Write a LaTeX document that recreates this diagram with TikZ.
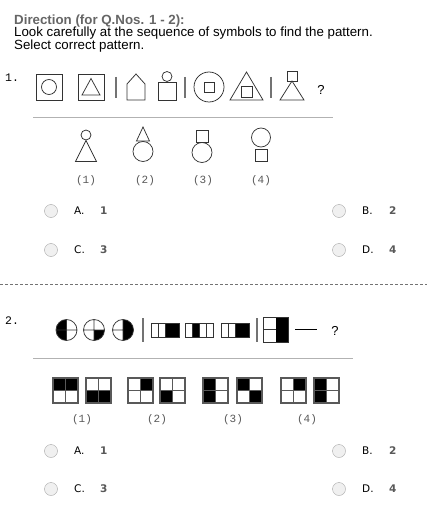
\documentclass[tikz,border=0pt]{standalone}
\usepackage{fontspec}
\setmainfont{Liberation Sans}
\newfontfamily\verd{DejaVu Sans}
\newfontfamily\cour{Liberation Mono}
\usetikzlibrary{calc}

\begin{document}
\begin{tikzpicture}[x=1pt,y=-1pt,
    sym/.style={draw=black!80,line width=0.75pt},
    sepline/.style={draw=black!55,line width=1.2pt},
    rule/.style={draw=black!30,line width=0.8pt},
    cell/.style={draw=black!65,line width=1.5pt},
    radio/.style={circle,draw=black!35,fill=black!6,minimum size=13pt,inner sep=0pt},
    choice/.style={font=\verd\fontsize{10.5}{12}\selectfont,anchor=west,inner sep=0pt},
    pick/.style={font=\verd\bfseries\fontsize{10.5}{12}\selectfont,text=black!65,anchor=west,inner sep=0pt},
    lab/.style={font=\cour\fontsize{11}{13}\selectfont,text=black!65,inner sep=0pt},
    qno/.style={font=\cour\fontsize{11.5}{13}\selectfont,anchor=base west,inner sep=0pt},
    head/.style={anchor=base west,inner sep=0pt,font=\fontsize{13.3}{15}\selectfont}]
  \useasboundingbox (0,0) rectangle (427,513);
  \fill[white] (0,0) rectangle (427,513);
  % heading
  \node[head,text=black!60,font=\bfseries\fontsize{13.3}{15}\selectfont] (dir) at (14,24.5) {Direction (for Q.Nos. 1 - 2):};
  \node[head] (look) at (14,37) {Look carefully at the sequence of symbols to find the pattern.};
  \node[head] (sel) at (14,49.5) {Select correct pattern.};
  %
  % question 1
  \node[qno] (q1) at (5,82) {1.};
  \draw[sym] (36,74.5) rectangle (62,100);
  \draw[sym] (49,87) circle (7.5pt);
  \draw[sym] (78,74.5) rectangle (104,100);
  \draw[sym] (91,78.5) -- (100,95) -- (82,95) -- cycle;
  \draw[sepline] (116,77) -- (116,98);
  \draw[sym] (127,100) -- (127,84) -- (136,74) -- (145,84) -- (145,100) -- cycle;
  \draw[sym] (167,76.5) circle (5pt);
  \draw[sym] (158,82) rectangle (176,100);
  \draw[sepline] (185,77) -- (185,98);
  \draw[sym] (209,87) circle (15pt);
  \draw[sym] (204,82) rectangle (214,92);
  \draw[sym] (246.5,72) -- (263,100) -- (230,100) -- cycle;
  \draw[sym] (241,86) rectangle (252,97);
  \draw[sepline] (271,77) -- (271,98);
  \draw[sym] (287,71) rectangle (297,81);
  \draw[sym] (292,81) -- (304,100) -- (280,100) -- cycle;
  \node[font=\fontsize{13}{15}\selectfont] (qm1) at (321,90) {?};
  \draw[rule] (33,117) -- (333,117);
  %
  \draw[sym] (86,135) circle (5pt);
  \draw[sym] (86,140.5) -- (96.5,161.5) -- (75.5,161.5) -- cycle;
  \draw[sym] (143,127) -- (149.5,141) -- (136.5,141) -- cycle;
  \draw[sym] (143,151.5) circle (10pt);
  \draw[sym] (196,130) rectangle (208,142);
  \draw[sym] (202,152.5) circle (10pt);
  \draw[sym] (261,137.5) circle (9.5pt);
  \draw[sym] (255,149) rectangle (267,161);
  \node[lab] (o1) at (86,181) {(1)};
  \node[lab] (o2) at (145,181) {(2)};
  \node[lab] (o3) at (203,181) {(3)};
  \node[lab] (o4) at (261,181) {(4)};
  %
  \node[radio] (ra1) at (51,211) {};
  \node[choice] (ca1) at (74,211) {A.};
  \node[pick] (pa1) at (100,211) {1};
  \node[radio] (rb1) at (339,211) {};
  \node[choice] (cb1) at (362,211) {B.};
  \node[pick] (pb1) at (389,211) {2};
  \node[radio] (rc1) at (51,250) {};
  \node[choice] (cc1) at (74,250) {C.};
  \node[pick] (pc1) at (100,250) {3};
  \node[radio] (rd1) at (339,250) {};
  \node[choice] (cd1) at (362,250) {D.};
  \node[pick] (pd1) at (389,250) {4};
  \draw[black!55,line width=0.8pt,dash pattern=on 3pt off 2pt] (0,284) -- (427,284);
  %
  % question 2
  \node[qno] (q2) at (5,324) {2.};
  \begin{scope}
    \clip (66.5,330) circle (10.5pt);
    \fill (55,318) rectangle (66.5,342);
  \end{scope}
  \begin{scope}
    \clip (94,330) circle (10.5pt);
    \fill (94,330) rectangle (106,342);
  \end{scope}
  \begin{scope}
    \clip (123,330) circle (10.5pt);
    \fill (123,318) rectangle (135,342);
  \end{scope}
  \draw[sym] (66.5,330) circle (10.5pt) (56,330) -- (77,330) (66.5,319.5) -- (66.5,340.5);
  \draw[sym] (94,330) circle (10.5pt) (83.5,330) -- (104.5,330) (94,319.5) -- (94,340.5);
  \draw[sym] (123,330) circle (10.5pt) (112.5,330) -- (123,330) (123,319.5) -- (123,340.5);
  \draw[sepline] (143,318) -- (143,342);
  \fill (165,323) rectangle (179,337);
  \draw[sym] (151,323) rectangle (179,337) (158,323) -- (158,337) (165,323) -- (165,337);
  \fill (192,323) rectangle (199,337);
  \draw[sym] (185,323) rectangle (213,337) (192,323) -- (192,337) (199,323) -- (199,337) (206,323) -- (206,337);
  \fill (235,323) rectangle (249,337);
  \draw[sym] (221,323) rectangle (249,337) (228,323) -- (228,337) (235,323) -- (235,337);
  \draw[sepline] (257,318) -- (257,342);
  \fill (275.5,317) rectangle (288,342);
  \draw[sym] (263,317) rectangle (288,342) (263,329.5) -- (275.5,329.5);
  \draw[black,line width=0.9pt] (295,329) -- (317,329);
  \node[font=\fontsize{13}{15}\selectfont] (qm2) at (335,331) {?};
  \draw[rule] (33,358) -- (353,358);
  %
  % answer figures
  \fill (53,378) rectangle (78,390.5);
  \draw[cell] (53,378) rectangle (78,403) (65.5,378) -- (65.5,403) (53,390.5) -- (78,390.5);
  \fill (86,390.5) rectangle (111,403);
  \draw[cell] (86,378) rectangle (111,403) (98.5,378) -- (98.5,403) (86,390.5) -- (111,390.5);
  \fill (140.5,378) rectangle (153,390.5);
  \draw[cell] (128,378) rectangle (153,403) (140.5,378) -- (140.5,403) (128,390.5) -- (153,390.5);
  \fill (160,390.5) rectangle (172.5,403);
  \draw[cell] (160,378) rectangle (185,403) (172.5,378) -- (172.5,403) (160,390.5) -- (185,390.5);
  \fill (203,378) rectangle (215.5,403);
  \draw[cell] (203,378) rectangle (228,403) (215.5,378) -- (215.5,403) (203,390.5) -- (228,390.5);
  \fill (237,378) rectangle (249.5,390.5) (249.5,390.5) rectangle (262,403);
  \draw[cell] (237,378) rectangle (262,403) (249.5,378) -- (249.5,403) (237,390.5) -- (262,390.5);
  \fill (293.5,378) rectangle (306,390.5);
  \draw[cell] (281,378) rectangle (306,403) (293.5,378) -- (293.5,403) (281,390.5) -- (306,390.5);
  \fill (314,378) rectangle (326.5,403);
  \draw[cell] (314,378) rectangle (339,403) (326.5,378) -- (326.5,403) (314,390.5) -- (339,390.5);
  \node[lab] (p1) at (82,420) {(1)};
  \node[lab] (p2) at (157,420) {(2)};
  \node[lab] (p3) at (233,420) {(3)};
  \node[lab] (p4) at (307,420) {(4)};
  %
  \node[radio] (ra2) at (51,451) {};
  \node[choice] (ca2) at (74,451) {A.};
  \node[pick] (pa2) at (100,451) {1};
  \node[radio] (rb2) at (339,451) {};
  \node[choice] (cb2) at (362,451) {B.};
  \node[pick] (pb2) at (389,451) {2};
  \node[radio] (rc2) at (51,489) {};
  \node[choice] (cc2) at (74,489) {C.};
  \node[pick] (pc2) at (100,489) {3};
  \node[radio] (rd2) at (339,489) {};
  \node[choice] (cd2) at (362,489) {D.};
  \node[pick] (pd2) at (389,489) {4};
\end{tikzpicture}
\end{document}
